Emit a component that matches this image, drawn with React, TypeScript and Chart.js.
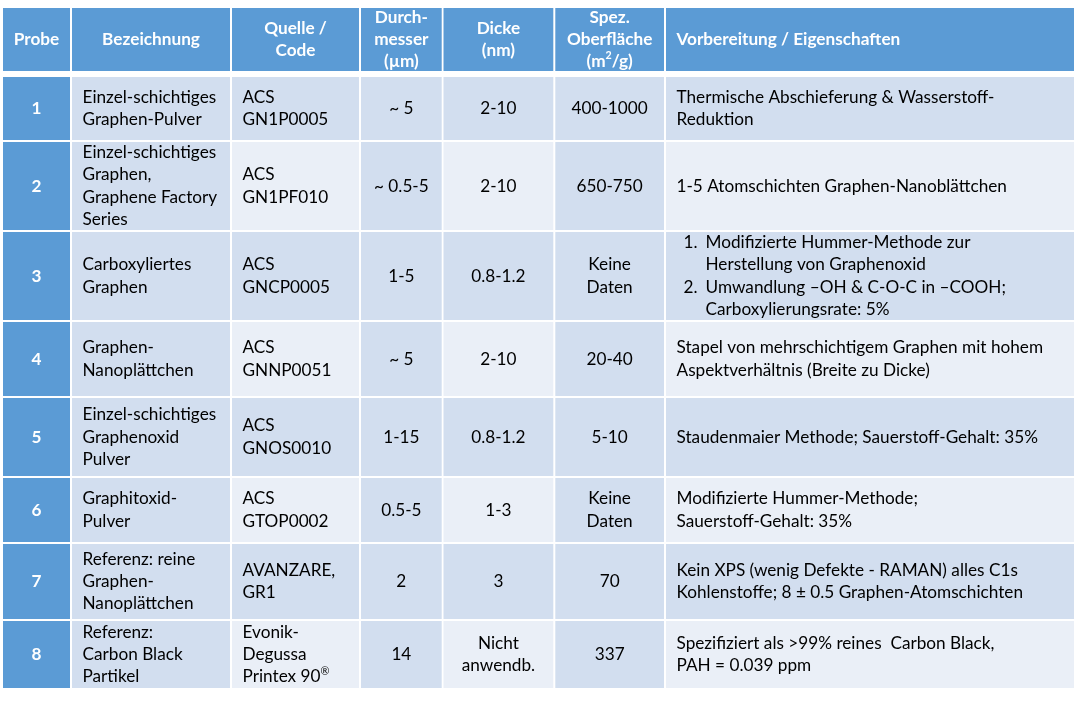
import { useEffect, useRef } from "react";
import { Chart, registerables } from "chart.js";

Chart.register(...registerables);

// ---------- data ----------
const headers = [
  "Probe",
  "Bezeichnung",
  "Quelle /\nCode",
  "Durch-\nmesser\n(µm)",
  "Dicke\n(nm)",
  "Spez.\nOberfläche\n(m^2/g)",
  "Vorbereitung / Eigenschaften",
];
const probe = ["1", "2", "3", "4", "5", "6", "7", "8"];
const bezeichnung = [
  "Einzel-schichtiges\nGraphen-Pulver",
  "Einzel-schichtiges\nGraphen,\nGraphene Factory\nSeries",
  "Carboxyliertes\nGraphen",
  "Graphen-\nNanoplättchen",
  "Einzel-schichtiges\nGraphenoxid\nPulver",
  "Graphitoxid-\nPulver",
  "Referenz: reine\nGraphen-\nNanoplättchen",
  "Referenz:\nCarbon Black\nPartikel",
];
const quelle = [
  "ACS\nGN1P0005",
  "ACS\nGN1PF010",
  "ACS\nGNCP0005",
  "ACS\nGNNP0051",
  "ACS\nGNOS0010",
  "ACS\nGTOP0002",
  "AVANZARE,\nGR1",
  "Evonik-\nDegussa\nPrintex 90^®",
];
const durchmesser = ["~ 5", "~ 0.5-5", "1-5", "~ 5", "1-15", "0.5-5", "2", "14"];
const dicke = ["2-10", "2-10", "0.8-1.2", "2-10", "0.8-1.2", "1-3", "3", "Nicht\nanwendb."];
const oberflaeche = ["400-1000", "650-750", "Keine\nDaten", "20-40", "5-10", "Keine\nDaten", "70", "337"];
const vorbereitung = [
  "Thermische Abschieferung & Wasserstoff-\nReduktion",
  "1-5 Atomschichten Graphen-Nanoblättchen",
  "1.\tModifizierte Hummer-Methode zur\n\tHerstellung von Graphenoxid\n2.\tUmwandlung –OH & C-O-C in –COOH;\n\tCarboxylierungsrate: 5%",
  "Stapel von mehrschichtigem Graphen mit hohem\nAspektverhältnis (Breite zu Dicke)",
  "Staudenmaier Methode; Sauerstoff-Gehalt: 35%",
  "Modifizierte Hummer-Methode;\nSauerstoff-Gehalt: 35%",
  "Kein XPS (wenig Defekte - RAMAN) alles C1s\nKohlenstoffe; 8 ± 0.5 Graphen-Atomschichten",
  "Spezifiziert als >99% reines  Carbon Black,\nPAH = 0.039 ppm",
];
const columns = [probe, bezeichnung, quelle, durchmesser, dicke, oberflaeche, vorbereitung];

// ---------- layout (scale units) ----------
const COL_LEFT = [3, 72, 232, 361, 443.5, 555.3, 666];
const COL_RIGHT = [70, 230, 359, 441.7, 553.3, 664, 1074];
const ROW_TOP = [8, 77, 142, 232, 322, 398, 478, 544, 621];
const ROW_BOTTOM = [71, 140, 230, 320, 396, 476, 542, 619, 688];
const HEADER_ALIGN = ["center", "center", "center", "center", "center", "center", "left"];
const BODY_ALIGN = ["center", "left", "left", "center", "center", "center", "left"];
const BANDED_COLS = [1, 3, 5];

const FONT_FAMILY = "Lato, 'Open Sans', sans-serif";
const FONT_SIZE = 17.2;
const LINE_H = 22.2;
const HEADER_LINE_H = 21.6;
const PAD_LEFT = 10.5;
const LIST_NUM = 7;
const LIST_TEXT = 29;

const BLUE = "#5B9BD5";
const DARK = "#D2DEEF";
const LIGHT = "#EAEFF7";

function drawRich(ctx: CanvasRenderingContext2D, line: string, x: number, y: number, align: string, font: (s: number) => string, size: number) {
  const parts: { t: string; sup: boolean }[] = [];
  const re = /\^(.)/g;
  let last = 0;
  let m: RegExpExecArray | null;
  while ((m = re.exec(line))) {
    if (m.index > last) parts.push({ t: line.slice(last, m.index), sup: false });
    parts.push({ t: m[1], sup: true });
    last = m.index + m[0].length;
  }
  if (last < line.length) parts.push({ t: line.slice(last), sup: false });
  let total = 0;
  const widths = parts.map((p) => {
    ctx.font = font(p.sup ? size * 0.62 : size);
    const w = ctx.measureText(p.t).width;
    total += w;
    return w;
  });
  let cx = align === "center" ? x - total / 2 : x;
  ctx.textAlign = "left";
  ctx.textBaseline = "middle";
  parts.forEach((p, i) => {
    ctx.font = font(p.sup ? size * 0.62 : size);
    ctx.fillText(p.t, cx, p.sup ? y - size * 0.3 : y);
    cx += widths[i];
  });
}

const tablePlugin = {
  id: "tablePlugin",
  beforeDraw(chart: any) {
    const ctx: CanvasRenderingContext2D = chart.ctx;
    const xs = chart.scales.x;
    const ys = chart.scales.y;
    ctx.save();
    ctx.fillStyle = "#ffffff";
    ctx.fillRect(0, 0, chart.width, chart.height);
    for (let r = 0; r < ROW_TOP.length; r++) {
      const y0 = ys.getPixelForValue(ROW_TOP[r]);
      const y1 = ys.getPixelForValue(ROW_BOTTOM[r]);
      const yc = (y0 + y1) / 2;
      for (let c = 0; c < COL_LEFT.length; c++) {
        const x0 = xs.getPixelForValue(COL_LEFT[c]);
        const x1 = xs.getPixelForValue(COL_RIGHT[c]);
        const isHeader = r === 0;
        let fill: string;
        if (isHeader || c === 0) fill = BLUE;
        else if (r % 2 === 1 || BANDED_COLS.includes(c)) fill = DARK;
        else fill = LIGHT;
        ctx.fillStyle = fill;
        ctx.fillRect(x0, y0, x1 - x0, y1 - y0);

        const text = isHeader ? headers[c] : columns[c][r - 1];
        const bold = isHeader || c === 0;
        const align = isHeader ? HEADER_ALIGN[c] : BODY_ALIGN[c];
        const lh = isHeader ? HEADER_LINE_H : LINE_H;
        const font = (s: number) => `${bold ? "bold " : ""}${s}px ${FONT_FAMILY}`;
        const lines = text.split("\n");
        ctx.save();
        ctx.beginPath();
        ctx.rect(x0, y0, x1 - x0, y1 - y0);
        ctx.clip();
        ctx.fillStyle = bold ? "#ffffff" : "#000000";
        lines.forEach((ln, i) => {
          const ly = yc - (lines.length * lh) / 2 + lh / 2 + i * lh;
          const lm = /^(\d+\.)\t(.*)$/.exec(ln);
          if (lm) {
            drawRich(ctx, lm[1], x0 + PAD_LEFT + LIST_NUM, ly, "left", font, FONT_SIZE);
            drawRich(ctx, lm[2], x0 + PAD_LEFT + LIST_TEXT, ly, "left", font, FONT_SIZE);
          } else if (ln.startsWith("\t")) {
            drawRich(ctx, ln.slice(1), x0 + PAD_LEFT + LIST_TEXT, ly, "left", font, FONT_SIZE);
          } else if (align === "center") {
            drawRich(ctx, ln, (x0 + x1) / 2, ly, "center", font, FONT_SIZE);
          } else {
            drawRich(ctx, ln, x0 + PAD_LEFT, ly, "left", font, FONT_SIZE);
          }
        });
        ctx.restore();
      }
    }
    ctx.restore();
  },
};

export default function App() {
  const ref = useRef<HTMLCanvasElement | null>(null);
  useEffect(() => {
    if (!ref.current) return;
    const chart = new Chart(ref.current, {
      type: "scatter",
      data: { datasets: [{ data: [], pointRadius: 0 }] },
      options: {
        animation: false,
        responsive: true,
        maintainAspectRatio: false,
        layout: { padding: 0 },
        plugins: { legend: { display: false }, tooltip: { enabled: false }, title: { display: false } },
        scales: {
          x: { type: "linear", min: 0, max: 1080, display: false },
          y: { type: "linear", min: 0, max: 701, reverse: true, display: false },
        },
      },
      plugins: [tablePlugin],
    });
    return () => chart.destroy();
  }, []);
  return (
    <div style={{ position: "fixed", left: 0, top: 0, width: 1080, height: 701, background: "#fff" }}>
      <canvas ref={ref} />
    </div>
  );
}
